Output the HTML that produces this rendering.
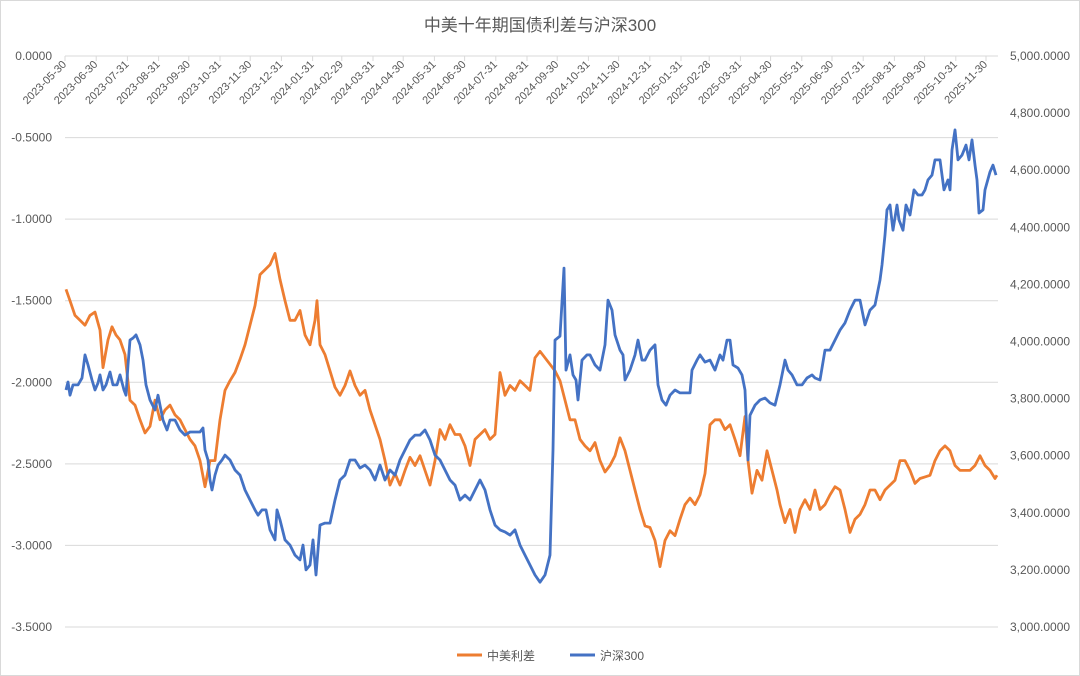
<!DOCTYPE html>
<html><head><meta charset="utf-8"><style>
html,body{margin:0;padding:0;background:#fff;}
svg{display:block;font-family:"Liberation Sans","Noto Sans CJK SC",sans-serif;}
</style></head><body>
<svg id="chart" width="1080" height="676" viewBox="0 0 1080 676" xmlns="http://www.w3.org/2000/svg">
<rect x="0.5" y="0.5" width="1079" height="675" fill="#fff" stroke="#d9d9d9"/>
<text x="540" y="31" text-anchor="middle" font-size="17" fill="#595959">中美十年期国债利差与沪深300</text>
<g id="grid"></g><g id="ylabels"></g><g id="xaxis"></g><g id="series"></g>
<g>
<line x1="457" y1="655" x2="482" y2="655" stroke="#ED7D31" stroke-width="3"/>
<text x="487" y="660" font-size="12" fill="#595959">中美利差</text>
<line x1="570" y1="655" x2="595" y2="655" stroke="#4472C4" stroke-width="3"/>
<text x="600" y="660" font-size="12" fill="#595959">沪深300</text>
</g>
</svg>
<script>
const tickLabels=["2023-05-30","2023-06-30","2023-07-31","2023-08-31","2023-09-30","2023-10-31","2023-11-30","2023-12-31","2024-01-31","2024-02-29","2024-03-31","2024-04-30","2024-05-31","2024-06-30","2024-07-31","2024-08-31","2024-09-30","2024-10-31","2024-11-30","2024-12-31","2025-01-31","2025-02-28","2025-03-31","2025-04-30","2025-05-31","2025-06-30","2025-07-31","2025-08-31","2025-09-30","2025-10-31","2025-11-30"];
const leftTicks=[0,-0.5,-1,-1.5,-2,-2.5,-3,-3.5];
const rightTicks=[5000,4800,4600,4400,4200,4000,3800,3600,3400,3200,3000];
const spreadDays=[1,5,10,15,20,25,30,35,38,43,47,51,55,60,65,70,75,80,85,90,95,100,105,110,115,120,125,130,135,140,145,150,155,160,165,170,175,180,185,190,195,200,205,210,215,220,225,230,235,240,245,250,252,255,260,265,270,275,280,285,290,295,300,305,310,315,320,325,330,335,340,345,350,355,360,365,370,375,380,385,390,395,400,405,410,415,420,425,430,435,440,445,450,455,460,465,470,475,480,485,490,495,500,505,510,515,520,525,530,535,540,545,550,555,560,565,570,575,580,585,590,595,600,605,610,615,620,625,630,635,640,645,650,655,660,665,670,675,680,683,687,692,697,702,707,712,715,720,725,730,735,740,745,750,755,760,765,770,775,780,785,790,795,800,805,810,815,820,825,830,835,840,845,850,855,860,865,870,875,880,885,890,895,900,905,910,915,920,925,930,932];
const spreadValues=[-1.43,-1.50,-1.59,-1.62,-1.65,-1.59,-1.57,-1.68,-1.91,-1.74,-1.66,-1.71,-1.74,-1.83,-2.11,-2.14,-2.23,-2.31,-2.27,-2.11,-2.23,-2.17,-2.14,-2.20,-2.23,-2.29,-2.35,-2.39,-2.48,-2.64,-2.48,-2.48,-2.23,-2.05,-1.99,-1.94,-1.86,-1.77,-1.65,-1.53,-1.34,-1.31,-1.28,-1.21,-1.37,-1.50,-1.62,-1.62,-1.56,-1.71,-1.77,-1.62,-1.50,-1.77,-1.83,-1.93,-2.03,-2.08,-2.02,-1.93,-2.02,-2.08,-2.05,-2.17,-2.26,-2.35,-2.48,-2.63,-2.56,-2.63,-2.54,-2.46,-2.51,-2.45,-2.54,-2.63,-2.48,-2.29,-2.35,-2.26,-2.32,-2.32,-2.39,-2.51,-2.35,-2.32,-2.29,-2.35,-2.32,-1.94,-2.08,-2.02,-2.05,-1.99,-2.02,-2.05,-1.85,-1.81,-1.85,-1.89,-1.93,-1.99,-2.11,-2.23,-2.23,-2.35,-2.39,-2.42,-2.37,-2.48,-2.55,-2.51,-2.45,-2.34,-2.42,-2.54,-2.66,-2.78,-2.88,-2.89,-2.97,-3.13,-2.97,-2.91,-2.94,-2.84,-2.75,-2.71,-2.75,-2.69,-2.56,-2.26,-2.23,-2.23,-2.29,-2.26,-2.35,-2.45,-2.21,-2.48,-2.68,-2.54,-2.60,-2.42,-2.54,-2.66,-2.75,-2.86,-2.78,-2.92,-2.78,-2.72,-2.78,-2.66,-2.78,-2.75,-2.69,-2.64,-2.66,-2.78,-2.92,-2.84,-2.81,-2.75,-2.66,-2.66,-2.72,-2.66,-2.63,-2.60,-2.48,-2.48,-2.54,-2.62,-2.59,-2.58,-2.57,-2.48,-2.42,-2.39,-2.42,-2.51,-2.54,-2.54,-2.54,-2.51,-2.45,-2.51,-2.54,-2.59,-2.57];
const csiDays=[1,3,5,8,13,17,20,23,27,30,33,35,38,41,45,48,52,55,59,61,63,65,68,71,75,78,81,85,90,93,98,102,105,110,115,120,125,130,135,138,140,143,145,147,150,153,157,160,165,170,175,180,185,190,193,197,201,205,210,212,215,220,225,230,235,238,241,245,248,251,255,260,265,270,275,280,285,290,295,300,305,310,315,320,325,330,335,340,345,350,355,360,365,370,375,380,385,390,395,400,405,410,415,420,425,430,435,440,445,450,455,460,465,470,475,480,485,488,490,495,499,501,505,508,511,513,517,522,525,530,535,540,543,547,550,555,558,560,565,570,573,577,580,585,590,593,597,601,605,610,615,620,625,627,632,635,640,645,650,655,658,662,665,668,673,677,680,683,685,690,695,700,705,710,715,720,723,727,732,737,742,747,750,755,760,765,770,775,780,785,790,795,800,805,810,815,817,820,822,825,828,832,834,838,841,845,849,853,857,860,863,867,870,875,879,883,885,887,890,893,897,901,904,907,910,912,914,918,920,925,928,931];
const csiValues=[3830,3858,3812,3848,3848,3872,3953,3918,3865,3830,3855,3883,3830,3848,3893,3848,3848,3883,3830,3812,3918,4005,4012,4023,3988,3935,3848,3795,3760,3812,3725,3690,3725,3725,3690,3672,3683,3683,3683,3697,3620,3585,3515,3480,3532,3567,3585,3602,3585,3550,3532,3480,3445,3410,3392,3410,3410,3340,3305,3410,3375,3305,3287,3252,3235,3287,3200,3217,3305,3182,3357,3364,3364,3445,3515,3532,3585,3585,3557,3567,3550,3515,3567,3515,3550,3532,3585,3620,3655,3672,3672,3690,3655,3602,3585,3550,3515,3497,3445,3462,3445,3480,3515,3480,3410,3357,3340,3333,3322,3340,3287,3252,3217,3182,3157,3182,3252,3620,4005,4019,4257,3900,3953,3883,3865,3795,3935,3953,3953,3918,3900,3988,4145,4110,4023,3970,3953,3865,3900,3953,4005,3935,3935,3970,3988,3848,3795,3777,3812,3830,3820,3820,3820,3900,3935,3953,3928,3935,3900,3953,3935,4005,4005,3918,3907,3883,3830,3585,3742,3777,3795,3802,3785,3777,3848,3935,3900,3883,3848,3848,3872,3883,3872,3865,3970,3970,4005,4040,4065,4110,4145,4145,4058,4110,4128,4215,4268,4373,4461,4478,4390,4478,4426,4390,4478,4443,4531,4513,4513,4531,4566,4583,4636,4636,4531,4566,4531,4671,4741,4636,4653,4688,4636,4706,4618,4566,4450,4461,4531,4594,4618,4583];

const NS="http://www.w3.org/2000/svg";
const X0=65,X1=998,Y0=56,Y1=627;
function xDay(d){return X0+d;}
function yLeft(v){return Y0+(0-v)/3.5*(Y1-Y0);}
function yRight(v){return Y0+(5000-v)/2000*(Y1-Y0);}
function mk(tag,attrs,parent){const e=document.createElementNS(NS,tag);for(const k in attrs)e.setAttribute(k,attrs[k]);parent.appendChild(e);return e;}
const grid=document.getElementById('grid'),yl=document.getElementById('ylabels'),xa=document.getElementById('xaxis'),ser=document.getElementById('series');
leftTicks.forEach(v=>{const y=yLeft(v);
 const g=mk('line',{x1:X0,x2:X1,y1:y,y2:y,stroke:'#d9d9d9','stroke-width':1},grid);
 
 
 const t=mk('text',{x:52,y:y+4,'text-anchor':'end','font-size':12,fill:'#595959'},yl);
 t.textContent=v.toFixed(4);
 
 
});
rightTicks.forEach(v=>{const y=yRight(v);
 const t=mk('text',{x:1010,y:y+4,'font-size':12,fill:'#595959'},yl);
 t.textContent=v.toLocaleString('en-US',{minimumFractionDigits:4,maximumFractionDigits:4});
 
 
});
const base=Date.UTC(2023,4,30);
tickLabels.forEach(s=>{const p=s.split('-');const days=(Date.UTC(+p[0],+p[1]-1,+p[2])-base)/86400000;
 const x=X0+days*921/915;
 const tk=mk('line',{x1:x,x2:x,y1:Y0,y2:Y0+5,stroke:'#d9d9d9'},xa);
 
 
 const t=mk('text',{x:x+2,y:Y0+9,'text-anchor':'end','font-size':11,fill:'#595959',transform:`rotate(-45 ${x+2} ${Y0+9})`},xa);
 t.textContent=s;
 
 
});
function path(days,vals,yf){return days.map((d,i)=>(i?'L':'M')+xDay(d).toFixed(1)+','+yf(vals[i]).toFixed(1)).join('');}
const ps=mk('path',{d:path(spreadDays,spreadValues,yLeft),fill:'none',stroke:'#ED7D31','stroke-width':2.8,'stroke-linejoin':'round'},ser);


const pc=mk('path',{d:path(csiDays,csiValues,yRight),fill:'none',stroke:'#4472C4','stroke-width':2.8,'stroke-linejoin':'round'},ser);


</script>
</body></html>
